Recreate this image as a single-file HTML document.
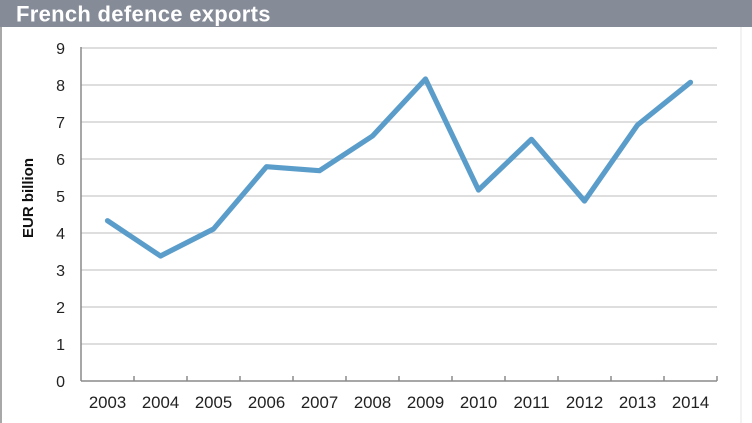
<!DOCTYPE html>
<html><head><meta charset="utf-8"><style>
html,body{margin:0;padding:0;background:#fff;}
body{width:752px;height:423px;overflow:hidden;position:relative;}
svg{display:block;}
</style></head><body>
<svg width="752" height="423" viewBox="0 0 752 423" xmlns="http://www.w3.org/2000/svg" font-family="Liberation Sans, Arial, sans-serif">
<rect x="0" y="0" width="752" height="423" fill="#fff"/>
<rect x="0" y="0" width="752" height="27" fill="#858b97"/>
<text x="16" y="21.5" font-size="22" font-weight="bold" fill="#fff" letter-spacing="0.3">French defence exports</text>
<line x1="1" y1="27" x2="1" y2="423" stroke="#a8a8a8" stroke-width="2"/>
<line x1="741" y1="27" x2="741" y2="423" stroke="#e4e4e4" stroke-width="1"/>
<g stroke="#c9c9c9" stroke-width="1.2">
<line x1="81" y1="48" x2="717" y2="48"/>
<line x1="81" y1="85" x2="717" y2="85"/>
<line x1="81" y1="122" x2="717" y2="122"/>
<line x1="81" y1="159" x2="717" y2="159"/>
<line x1="81" y1="196" x2="717" y2="196"/>
<line x1="81" y1="233" x2="717" y2="233"/>
<line x1="81" y1="270" x2="717" y2="270"/>
<line x1="81" y1="307" x2="717" y2="307"/>
<line x1="81" y1="344" x2="717" y2="344"/>
</g>
<g stroke="#8a8a8a" stroke-width="1.5">
<line x1="81" y1="47" x2="81" y2="381"/>
<line x1="81" y1="381" x2="717" y2="381"/>
<line x1="134" y1="376" x2="134" y2="381"/>
<line x1="187" y1="376" x2="187" y2="381"/>
<line x1="240" y1="376" x2="240" y2="381"/>
<line x1="293" y1="376" x2="293" y2="381"/>
<line x1="346" y1="376" x2="346" y2="381"/>
<line x1="399" y1="376" x2="399" y2="381"/>
<line x1="452" y1="376" x2="452" y2="381"/>
<line x1="505" y1="376" x2="505" y2="381"/>
<line x1="558" y1="376" x2="558" y2="381"/>
<line x1="611" y1="376" x2="611" y2="381"/>
<line x1="664" y1="376" x2="664" y2="381"/>
<line x1="717" y1="376" x2="717" y2="381"/>
</g>
<g font-size="16" fill="#222" text-anchor="end">
<text x="65" y="54">9</text>
<text x="65" y="91">8</text>
<text x="65" y="128">7</text>
<text x="65" y="165">6</text>
<text x="65" y="202">5</text>
<text x="65" y="239">4</text>
<text x="65" y="276">3</text>
<text x="65" y="313">2</text>
<text x="65" y="350">1</text>
<text x="65" y="387">0</text>
</g>
<g font-size="16.8" fill="#222" text-anchor="middle">
<text x="107.5" y="408">2003</text>
<text x="160.5" y="408">2004</text>
<text x="213.5" y="408">2005</text>
<text x="266.5" y="408">2006</text>
<text x="319.5" y="408">2007</text>
<text x="372.5" y="408">2008</text>
<text x="425.5" y="408">2009</text>
<text x="478.5" y="408">2010</text>
<text x="531.5" y="408">2011</text>
<text x="584.5" y="408">2012</text>
<text x="637.5" y="408">2013</text>
<text x="690.5" y="408">2014</text>
</g>
<text transform="translate(33,198) rotate(-90)" font-size="15" font-weight="bold" fill="#111" text-anchor="middle">EUR billion</text>
<polyline fill="none" stroke="#5b9dca" stroke-width="5.2" stroke-linejoin="round" stroke-linecap="round"
points="107.5,220.7 160.5,256 213.5,229 266.5,166.7 319.5,170.7 372.5,136 425.5,79 478.5,190 531.5,139.3 584.5,201 637.5,125 690.5,82.3"/>
</svg>
</body></html>
